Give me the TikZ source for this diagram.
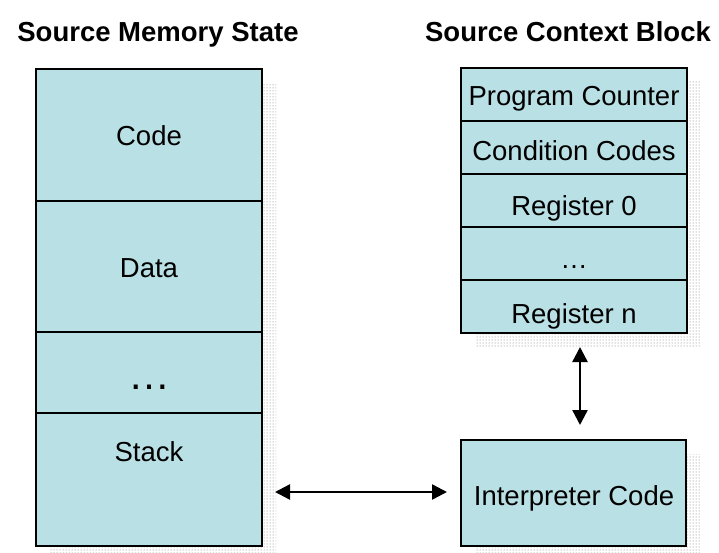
\documentclass[tikz,border=0pt]{standalone}
\usepackage{fontspec}
\setmainfont{Liberation Sans}
\usetikzlibrary{arrows.meta,patterns}
\definecolor{cellfill}{RGB}{185,224,228}
\begin{document}
\begin{tikzpicture}[x=1pt,y=-1pt,
  cell/.style={draw=black,line width=2.4pt,fill=cellfill},
  shade/.style={pattern=dots,pattern color=black!55},
  lbl/.style={anchor=base,inner sep=0pt,font=\fontsize{27.5}{33}\selectfont},
  title/.style={anchor=base,inner sep=0pt,font=\fontsize{27.5}{33}\selectfont\bfseries},
  link/.style={line width=2.4pt,{Triangle[length=15pt,width=15pt]}-{Triangle[length=15pt,width=15pt]}}]
\useasboundingbox (0,0) rectangle (719,553);

% titles
\node[title] (t1) at (158,42) {Source Memory State};
\node[title] (t2) at (568,42) {Source Context Block};

% drop shadows
\fill[shade] (50,83) rectangle (276,560);
\fill[shade] (475,82) rectangle (701,347);
\fill[shade] (475,454) rectangle (701,560);

% memory state column
\draw[cell] (36,69) rectangle (262,201);
\draw[cell] (36,201) rectangle (262,332);
\draw[cell] (36,332) rectangle (262,413);
\draw[cell] (36,413) rectangle (262,546);
\node[lbl] (code) at (149,146) {Code};
\node[lbl] (data) at (149,277) {Data};
\node[lbl,font=\fontsize{42}{48}\selectfont] (dots1) at (149,389) {…};
\node[lbl] (stack) at (149,461) {Stack};
\coordinate (memR) at (262,492);

% context block
\draw[cell] (461,68) rectangle (687,121);
\draw[cell] (461,121) rectangle (687,174);
\draw[cell] (461,174) rectangle (687,227);
\draw[cell] (461,227) rectangle (687,280);
\draw[cell] (461,280) rectangle (687,333);
\node[lbl] (pc) at (574,106) {Program Counter};
\node[lbl] (cc) at (574,161) {Condition Codes};
\node[lbl] (r0) at (574,215) {Register 0};
\node[lbl] (dots2) at (574,268) {…};
\node[lbl] (rn) at (574,323) {Register n};
\coordinate (ctxB) at (580,333);

% interpreter
\draw[cell] (461,440) rectangle (686,546);
\node[lbl] (interp) at (574,505) {Interpreter Code};
\coordinate (intT) at (580,440);
\coordinate (intL) at (461,492);

% connectors
\draw[link] ([xshift=13pt]memR) -- ([xshift=-14pt]intL);
\draw[link] ([yshift=-14pt]ctxB) -- ([yshift=15pt]intT);
\end{tikzpicture}
\end{document}
